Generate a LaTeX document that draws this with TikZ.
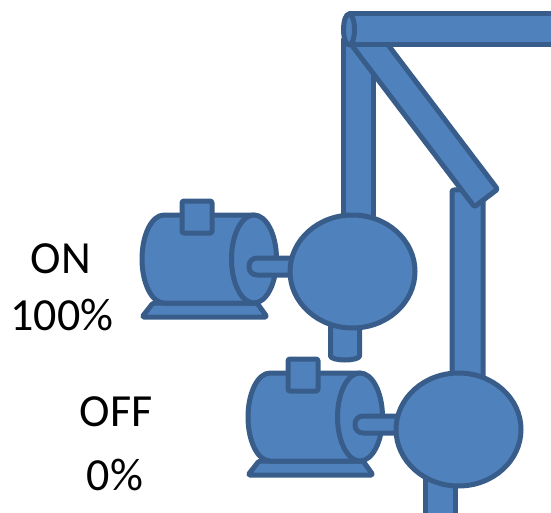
\documentclass[tikz,border=0pt]{standalone}
\usepackage{fontspec}
\setmainfont{Carlito}
\definecolor{pumpfill}{HTML}{4F81BD}
\definecolor{pumpline}{HTML}{385D8A}
\tikzset{
  part/.style={fill=pumpfill, draw=pumpline, line width=5pt, line join=round},
  caption/.style={font=\fontsize{46}{55}\selectfont, anchor=base, inner sep=0pt},
  % electric motor with coupled pump, origin at the motor body's top-left
  motorpump/.pic={
    % foot
    \draw[part, rounded corners=1.5pt] (11,88) -- (115,88) -- (125,102) -- (0,102) -- cycle;
    % cylindrical body
    \draw[part] (112,0) -- (22,0) arc[start angle=270, end angle=90, x radius=22, y radius=44]
      -- (112,88) -- cycle;
    \draw[part] (112,44) ellipse[x radius=22.5, y radius=44];
    % terminal box
    \draw[part, rounded corners=1.5pt] (40,-14) rectangle (70,18);
    % shaft
    \draw[part, rounded corners=8pt] (107,43) rectangle (155,60);
    % pump casing
    \draw[part] (210.5,56.5) ellipse[x radius=62.5, y radius=56.5];
  }
}
\begin{document}
\begin{tikzpicture}[x=1pt, y=-1pt]
  \useasboundingbox (0,0) rectangle (551,513);

  % riser from the upper pump
  \draw[part] (343,40) rectangle (373,240);
  % riser into the lower pump
  \draw[part, rounded corners=2pt] (452,190) rectangle (483,400);
  % diagonal branch
  \draw[part, rounded corners=2pt] (371.6,23.2) -- (497.6,189.2) -- (474.4,206.8) -- (348.4,40.8) -- cycle;
  % header pipe
  \draw[part] (349,14) -- (560,14) -- (560,45) -- (349,45) -- cycle;
  \draw[part] (349,29.5) ellipse[x radius=5.5, y radius=15.5];

  % suction stub of the upper pump
  \draw[part] (345,300) -- (330.5,300) -- (330.5,356)
    arc[start angle=180, end angle=0, x radius=14.5, y radius=4] -- (359.5,300) -- cycle;
  % suction pipe of the lower pump
  \draw[part] (425,450) rectangle (455,530);

  % pump sets
  \pic (upperset) at (142,215) {motorpump};
  \pic (lowerset) at (248,373) {motorpump};

  % status labels
  \node[caption] (on) at (61,273) {ON};
  \node[caption] (onpct) at (62,330) {100\%};
  \node[caption] (off) at (116,426) {OFF};
  \node[caption] (offpct) at (115,490) {0\%};
\end{tikzpicture}
\end{document}
